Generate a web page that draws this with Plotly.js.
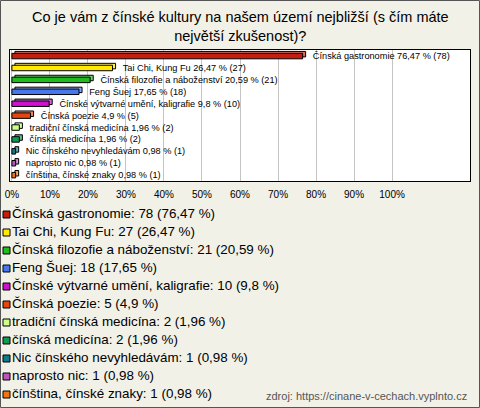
<!DOCTYPE html>
<html>
<head>
<meta charset="utf-8">
<script src="https://cdn.plot.ly/plotly-3.0.1.min.js"></script>
<style>
html,body{margin:0;padding:0;background:#f2f1e8;}
#chart{width:480px;height:408px;}
</style>
</head>
<body>
<div id="chart"></div>
<script>
// ---- data ----
const categories = [
  "Čínská gastronomie",
  "Tai Chi, Kung Fu",
  "Čínská filozofie a náboženství",
  "Feng Šuej",
  "Čínské výtvarné umění, kaligrafie",
  "Čínská poezie",
  "tradiční čínská medicína",
  "čínská medicína",
  "Nic čínského nevyhledávám",
  "naprosto nic",
  "čínština, čínské znaky"
];
const counts = [78, 27, 21, 18, 10, 5, 2, 2, 1, 1, 1];
const percents = [76.47, 26.47, 20.59, 17.65, 9.8, 4.9, 1.96, 1.96, 0.98, 0.98, 0.98];
const colors = ["#c41e0e", "#ffea00", "#1fbb1f", "#4777ee", "#cc12cc", "#e8440f",
                "#ccff88", "#119955", "#127a8a", "#bb55bb", "#ee7711"];
const tickVals = [0, 10, 20, 30, 40, 50, 60, 70, 80, 90, 100];
const tickText = ["0%", "10%", "20%", "30%", "40%", "50%", "60%", "70%", "80%", "90%", "100%"];
const titleText = "Co je vám z čínské kultury na našem území nejbližší (s čím máte<br>největší zkušenost)?";
const sourceText = "zdroj: https://cinane-v-cechach.vyplnto.cz";

// ---- helpers ----
const W = 480, H = 408;
const fmt = v => String(v).replace('.', ',');
const px = x => x / W;
const py = y => 1 - y / H;
const FONT = '"Liberation Sans", Arial, sans-serif';
const nb = '\u00a0\u00a0\u00a0\u00a0';
const lighten = (hex, f) => {
  const n = parseInt(hex.slice(1), 16);
  const ch = [(n >> 16) & 255, (n >> 8) & 255, n & 255].map(c => Math.round(c + (255 - c) * f));
  return 'rgb(' + ch.join(',') + ')';
};
const DEPTH = 0.8; // 3D depth of bars, in axis units

const barLabels = categories.map((c, i) => nb + c + ' ' + fmt(percents[i]) + ' % (' + counts[i] + ')');
const legendLabels = categories.map((c, i) => c + ': ' + counts[i] + ' (' + fmt(percents[i]) + ' %)');

// back (3D depth) face of each bar
const barsBack = {
  type: 'bar',
  orientation: 'h',
  y: categories,
  x: percents,
  base: DEPTH,
  width: 0.46,
  offset: -0.38,
  marker: {color: colors.map(c => lighten(c, 0.35)), line: {color: '#000', width: 1}},
  hoverinfo: 'skip',
  showlegend: false,
  xaxis: 'x', yaxis: 'y'
};

const bars = {
  type: 'bar',
  orientation: 'h',
  y: categories,
  x: percents,
  width: 0.46,
  offset: -0.22,
  marker: {color: colors, line: {color: '#000', width: 1}},
  text: barLabels,
  textposition: 'outside',
  constraintext: 'none',
  cliponaxis: false,
  textfont: {family: FONT, size: 9.2, color: '#000'},
  hoverinfo: 'skip',
  showlegend: false,
  xaxis: 'x', yaxis: 'y'
};

const legendPts = {
  type: 'scatter',
  mode: 'markers+text',
  y: categories,
  x: categories.map(() => 0),
  text: legendLabels,
  textposition: 'middle right',
  textfont: {family: FONT, size: 13.4, color: '#000'},
  marker: {symbol: 'square', size: 7, color: colors, line: {color: '#000', width: 1}},
  cliponaxis: false,
  hoverinfo: 'skip',
  showlegend: false,
  xaxis: 'x2', yaxis: 'y2'
};

const layout = {
  width: W, height: H,
  margin: {l: 0, r: 0, t: 0, b: 0},
  paper_bgcolor: '#f2f1e8',
  plot_bgcolor: 'rgba(0,0,0,0)',
  font: {family: FONT, color: '#000'},
  showlegend: false,
  barmode: 'overlay',
  xaxis: {
    domain: [px(10), px(470)],
    range: [-0.5, 120.5],
    tickvals: tickVals, ticktext: tickText,
    tickfont: {family: FONT, size: 10, color: '#000'},
    ticks: '', ticklabelstandoff: 4,
    showgrid: true, gridcolor: '#c4c4c4', gridwidth: 1,
    zeroline: false,
    showline: true, linecolor: '#000', linewidth: 1, mirror: true,
    fixedrange: true
  },
  yaxis: {
    domain: [py(181), py(50)],
    type: 'category',
    range: [categories.length - 0.5, -0.5],
    showticklabels: false, ticks: '',
    showgrid: false, zeroline: false,
    showline: true, linecolor: '#000', linewidth: 1, mirror: true,
    fixedrange: true
  },
  xaxis2: {
    domain: [0, 1], range: [-6.5, 473.5], anchor: 'y2',
    visible: false, fixedrange: true
  },
  yaxis2: {
    domain: [py(403.5), py(205.5)], anchor: 'x2',
    type: 'category',
    range: [categories.length - 0.5, -0.5],
    visible: false, fixedrange: true
  },
  shapes: [
    {type: 'rect', xref: 'x domain', yref: 'y domain', x0: 0, x1: 1, y0: 0, y1: 1,
     fillcolor: '#ffffff', line: {width: 0}, layer: 'below'},
    {type: 'rect', xref: 'paper', yref: 'paper', x0: px(0.5), x1: px(479.5), y0: py(407.5), y1: py(0.5),
     fillcolor: 'rgba(0,0,0,0)', line: {color: '#555', width: 1}, layer: 'above'}
  ],
  annotations: [
    {text: titleText, xref: 'paper', yref: 'paper', x: 0.5, y: py(7),
     xanchor: 'center', yanchor: 'top', showarrow: false, align: 'center',
     font: {family: FONT, size: 14.5, color: '#000'}},
    {text: sourceText, xref: 'paper', yref: 'paper', x: px(469), y: py(396),
     xanchor: 'right', yanchor: 'middle', showarrow: false,
     font: {family: FONT, size: 11, color: '#555'}}
  ]
};

Plotly.newPlot('chart', [barsBack, bars, legendPts], layout, {displayModeBar: false, staticPlot: true});
</script>
</body>
</html>
